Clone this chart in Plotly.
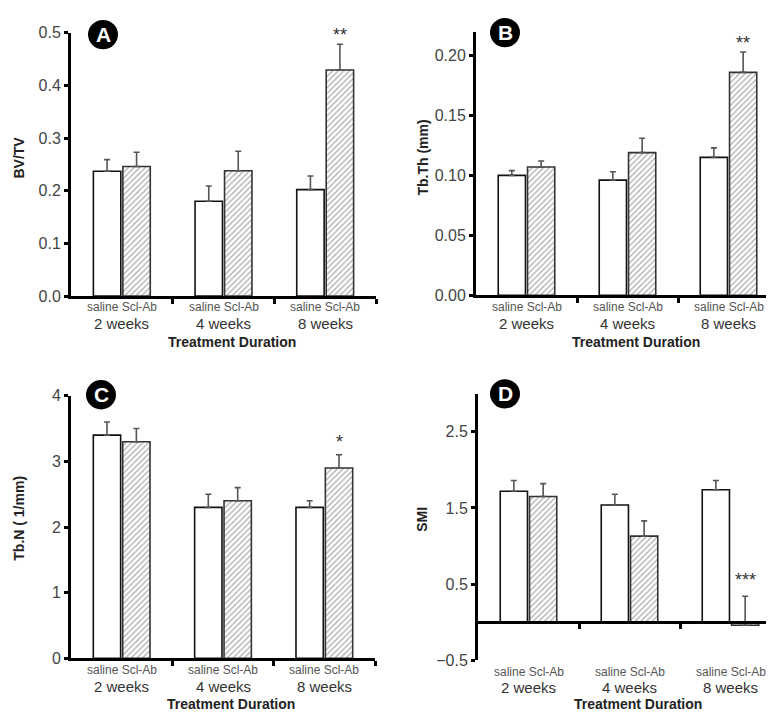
import plotly.graph_objects as go

W, H = 774, 713

durations = ["2 weeks", "4 weeks", "8 weeks"]
group_label = "saline Scl-Ab"

# Panel A: BV/TV
bvtv_saline = [0.237, 0.180, 0.202]
bvtv_saline_err = [0.022, 0.029, 0.026]
bvtv_sclab = [0.246, 0.238, 0.429]
bvtv_sclab_err = [0.027, 0.037, 0.049]
bvtv_sig = ["", "", "**"]

# Panel B: Tb.Th (mm)
tbth_saline = [0.100, 0.096, 0.115]
tbth_saline_err = [0.004, 0.007, 0.008]
tbth_sclab = [0.107, 0.119, 0.186]
tbth_sclab_err = [0.005, 0.012, 0.017]
tbth_sig = ["", "", "**"]

# Panel C: Tb.N (1/mm)
tbn_saline = [3.40, 2.30, 2.30]
tbn_saline_err = [0.20, 0.20, 0.10]
tbn_sclab = [3.30, 2.40, 2.90]
tbn_sclab_err = [0.20, 0.20, 0.20]
tbn_sig = ["", "", "*"]

# Panel D: SMI
smi_saline = [1.72, 1.54, 1.74]
smi_saline_err = [0.14, 0.14, 0.12]
smi_sclab = [1.65, 1.13, -0.04]
smi_sclab_err = [0.17, 0.20, 0.38]
smi_sig = ["", "", "***"]

FONT = "Liberation Sans, Arial, sans-serif"

panels = [
    dict(letter="A", title="BV/TV", sal=bvtv_saline, sale=bvtv_saline_err, scl=bvtv_sclab,
         scle=bvtv_sclab_err, sig=bvtv_sig, px=(63, 368), py=(17, 287), yr=(0, 0.5),
         tickvals=[0, 0.1, 0.2, 0.3, 0.4, 0.5], fmt=".1f", xline_val=None,
         circ=(95, 19), ytitle=(11, 145), cat_y=(298, 315), td_y=334, sig_shift=-3),
    dict(letter="B", title="Tb.Th (mm)", sal=tbth_saline, sale=tbth_saline_err, scl=tbth_sclab,
         scle=tbth_sclab_err, sig=tbth_sig, px=(468, 771), py=(16, 286), yr=(0, 0.22),
         tickvals=[0, 0.05, 0.10, 0.15, 0.20], fmt=".2f", xline_val=None,
         circ=(497, 17), ytitle=(415, 145), cat_y=(298, 315), td_y=334, sig_shift=-3),
    dict(letter="C", title="Tb.N ( 1/mm)", sal=tbn_saline, sale=tbn_saline_err, scl=tbn_sclab,
         scle=tbn_sclab_err, sig=tbn_sig, px=(63, 367), py=(389, 658), yr=(0, 4),
         tickvals=[0, 1, 2, 3, 4], fmt="d", xline_val=None,
         circ=(93, 388), ytitle=(11, 515), cat_y=(670, 687), td_y=705, sig_shift=1),
    dict(letter="D", title="SMI", sal=smi_saline, sale=smi_saline_err, scl=smi_sclab,
         scle=smi_sclab_err, sig=smi_sig, px=(470, 773), py=(387, 660), yr=(-0.5, 3.0),
         tickvals=[-0.5, 0.5, 1.5, 2.5], fmt=".1f", xline_val=0,
         circ=(497, 387), ytitle=(414, 515), cat_y=(672, 688), td_y=705, sig_shift=4),
]

fig = go.Figure()
layout = dict(
    width=W, height=H, margin=dict(l=0, r=0, t=0, b=0),
    paper_bgcolor="white", plot_bgcolor="white",
    showlegend=False, barmode="group", bargap=0.42, bargroupgap=0.07,
    font=dict(family=FONT, color="#333"),
)
annotations = []
shapes = []

def fx(p):
    return p / W

def fy(p):
    return 1 - p / H

xcats = [0, 1, 2]

for i, p in enumerate(panels):
    n = "" if i == 0 else str(i + 1)
    xa, ya = "x" + n, "y" + n
    common = dict(xaxis=xa, yaxis=ya, showlegend=False, hoverinfo="skip")
    fig.add_trace(go.Bar(
        x=xcats, y=p["sal"], name="saline",
        marker=dict(color="white", line=dict(color="#111", width=1.6)),
        error_y=dict(type="data", symmetric=False, array=p["sale"], arrayminus=[0, 0, 0],
                     color="#555", thickness=1.6, width=3),
        **common))
    fig.add_trace(go.Bar(
        x=xcats, y=p["scl"], name="Scl-Ab",
        marker=dict(color="white", line=dict(color="#333", width=1.6),
                    pattern=dict(shape="/", fgcolor="#555", bgcolor="white", size=4, solidity=0.3)),
        error_y=dict(type="data", symmetric=False, array=p["scle"], arrayminus=[0, 0, 0],
                     color="#555", thickness=1.6, width=3),
        **common))

    x0, x1 = p["px"]
    ytop, ybot = p["py"]
    xdom = [fx(x0), fx(x1)]
    ydom = [fy(ybot), fy(ytop)]
    xkey = "xaxis" + n
    ykey = "yaxis" + n
    xax = dict(domain=xdom, range=[-0.5, 2.5], showgrid=False, zeroline=False,
               showline=True, linecolor="black", linewidth=3,
               tickmode="array", tickvals=[0.5, 1.5, 2.5], ticks="outside",
               ticklen=5, tickwidth=3, tickcolor="black", showticklabels=False,
               fixedrange=True)
    if p["xline_val"] is not None:
        y0, y1 = p["yr"]
        frac = (p["xline_val"] - y0) / (y1 - y0)
        pos = ydom[0] + frac * (ydom[1] - ydom[0])
        xax.update(anchor="free", position=pos)
    else:
        xax.update(anchor=ya)
    yax = dict(domain=ydom, range=list(p["yr"]), anchor=xa, showgrid=False, zeroline=False,
               showline=True, linecolor="black", linewidth=3,
               tickmode="array", tickvals=p["tickvals"], tickformat=p["fmt"],
               ticks="outside", ticklen=4, tickwidth=3, tickcolor="black",
               tickfont=dict(family=FONT, size=16, color="#444"), fixedrange=True)
    layout[xkey] = xax
    layout[ykey] = yax

    # category labels
    for k, d in enumerate(durations):
        annotations.append(dict(x=k, y=fy(p["cat_y"][0]), xref=xa, yref="paper",
                                text=group_label, showarrow=False,
                                font=dict(family=FONT, size=12, color="#555"),
                                xanchor="center", yanchor="middle"))
        annotations.append(dict(x=k, y=fy(p["cat_y"][1]), xref=xa, yref="paper",
                                text=d, showarrow=False,
                                font=dict(family=FONT, size=15, color="#333"),
                                xanchor="center", yanchor="middle"))
        if p["sig"][k]:
            top = p["scl"][k] + p["scle"][k]
            annotations.append(dict(x=k + 0.145, y=top, xref=xa, yref=ya,
                                    text=p["sig"][k], showarrow=False,
                                    font=dict(family=FONT, size=18, color="#333"),
                                    xanchor="center", yanchor="bottom",
                                    yshift=p["sig_shift"]))
    # x title
    annotations.append(dict(x=fx((x0 + x1) / 2 + 8), y=fy(p["td_y"]), xref="paper", yref="paper",
                            text="<b>Treatment Duration</b>", showarrow=False,
                            font=dict(family=FONT, size=14, color="#222"),
                            xanchor="center", yanchor="middle"))
    # y title
    annotations.append(dict(x=fx(p["ytitle"][0]), y=fy(p["ytitle"][1]), xref="paper", yref="paper",
                            text="<b>" + p["title"] + "</b>", showarrow=False, textangle=-90,
                            font=dict(family=FONT, size=14, color="#222"),
                            xanchor="center", yanchor="middle"))
    # panel letter circle
    cx, cy = p["circ"]
    r = 15
    shapes.append(dict(type="circle", xref="paper", yref="paper",
                       x0=fx(cx - r), x1=fx(cx + r), y0=fy(cy + r), y1=fy(cy - r),
                       fillcolor="black", line=dict(color="black", width=0)))
    annotations.append(dict(x=fx(cx), y=fy(cy), xref="paper", yref="paper",
                            text="<b>" + p["letter"] + "</b>", showarrow=False,
                            font=dict(family=FONT, size=21, color="white"),
                            xanchor="center", yanchor="middle"))

layout["annotations"] = annotations
layout["shapes"] = shapes
fig.update_layout(**layout)
fig.write_html("out.html")
